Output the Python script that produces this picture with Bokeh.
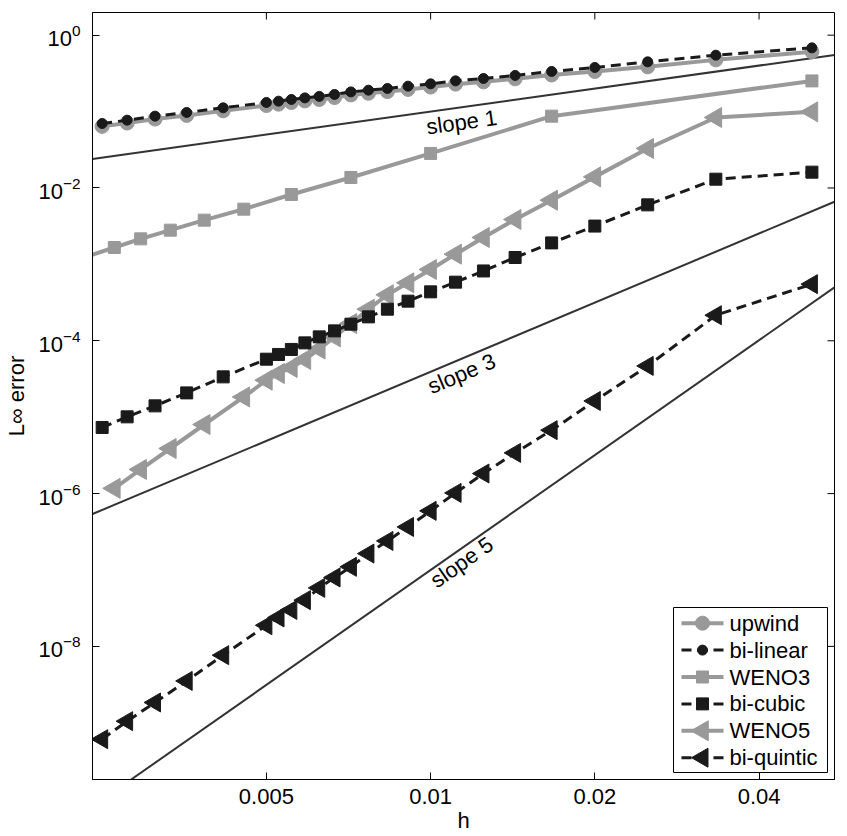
import numpy as np
from bokeh.plotting import figure
from bokeh.models import (Range1d, FixedTicker, CustomJSTickFormatter,
                          LogTickFormatter, ColumnDataSource)
from bokeh.core.properties import value
from bokeh.embed import file_html
from bokeh.resources import INLINE

# ---------------- data ----------------
N_fine = [400, 360, 320, 280, 240, 200, 190, 180, 170, 160, 150, 140,
          130, 120, 110, 100, 90, 80, 70, 60, 50, 40, 30, 20]
N_weno3 = [440, 380, 340, 300, 260, 220, 180, 140, 100, 60, 20]
N_weno5 = [380, 340, 300, 260, 220, 200, 190, 180, 170, 160, 150, 140,
           130, 120, 110, 100, 90, 80, 70, 60, 50, 40, 30, 20]

upwind = [0.0640, 0.0708, 0.0797, 0.0890, 0.1022, 0.1200, 0.1250, 0.1315,
          0.1380, 0.1440, 0.1525, 0.1650, 0.1735, 0.1825, 0.1950, 0.2090,
          0.2285, 0.2450, 0.2680, 0.3010, 0.3350, 0.3850, 0.4750, 0.6050]
bilinear = [0.0698, 0.0772, 0.0871, 0.0973, 0.1119, 0.1315, 0.1368, 0.1440,
            0.1510, 0.1580, 0.1674, 0.1810, 0.1906, 0.2006, 0.2150, 0.2305,
            0.2522, 0.2710, 0.2969, 0.3350, 0.3777, 0.4475, 0.5470, 0.6820]
weno3 = [0.00118, 0.001664, 0.002158, 0.002804, 0.003791, 0.005278,
         0.00822, 0.01372, 0.0283, 0.0871, 0.252]
bicubic = [7.33e-6, 1.01e-5, 1.406e-5, 2.08e-5, 3.37e-5, 5.74e-5, 6.62e-5,
           7.70e-5, 9.39e-5, 1.125e-4, 1.348e-4, 1.649e-4, 2.055e-4, 2.59e-4,
           3.30e-4, 4.37e-4, 5.85e-4, 8.2e-4, 1.23e-3, 1.91e-3, 3.17e-3,
           6.01e-3, 1.303e-2, 1.61e-2]
weno5 = [1.17e-6, 2.07e-6, 3.89e-6, 8.02e-6, 1.84e-5, 3.05e-5, 3.73e-5,
         4.47e-5, 5.7e-5, 7.8e-5, 1.125e-4, 1.68e-4, 2.59e-4, 4.0e-4, 5.73e-4,
         8.57e-4, 1.36e-3, 2.25e-3, 3.87e-3, 6.92e-3, 1.397e-2, 3.29e-2,
         8.37e-2, 9.91e-2]
biquintic = [6.10e-10, 1.05e-9, 1.845e-9, 3.53e-9, 7.67e-9, 1.89e-8, 2.39e-8,
             3.0e-8, 4.03e-8, 5.83e-8, 7.98e-8, 1.10e-7, 1.64e-7, 2.4e-7,
             3.66e-7, 5.94e-7, 1.02e-6, 1.83e-6, 3.41e-6, 6.76e-6, 1.63e-5,
             4.69e-5, 2.16e-4, 5.51e-4]

series_names = ["upwind", "bi-linear", "WENO3", "bi-cubic", "WENO5", "bi-quintic"]

# reference slope lines: end points (h, error)
slope_h = [0.0024, 0.055]
slope1_err = [0.024, 0.55]
slope3_err = [5.4e-7, 6.6e-3]
slope5_err = [8.0e-11, 5.0e-4]
slope_labels = ["slope 1", "slope 3", "slope 5"]

x_ticks = [0.005, 0.01, 0.02, 0.04]
y_ticks = [1e-8, 1e-6, 1e-4, 1e-2, 1.0]

# ---------------- figure ----------------
FONT = "Liberation Sans"
GRAY = "#999999"
BLACK = "#1a1a1a"
X0, X1 = 0.0024, 0.055
Y0, Y1 = 1.81e-10, 1.98
W, H = 847, 836
BL, BR, BT, BB = 92, 13, 12, 57

p = figure(width=W, height=H, x_axis_type="log", y_axis_type="log",
           x_range=Range1d(X0, X1), y_range=Range1d(Y0, Y1),
           output_backend="svg", toolbar_location=None,
           min_border_left=BL, min_border_right=BR, min_border_top=BT,
           min_border_bottom=BB)
p.grid.visible = False
p.outline_line_color = "black"
p.outline_line_width = 1
p.outline_line_alpha = 1

frame_w = W - BL - BR
frame_h = H - BT - BB
px_per_dec_x = frame_w / np.log10(X1 / X0)
px_per_dec_y = frame_h / np.log10(Y1 / Y0)


def sx_to_h(sx):
    return float(X0 * 10 ** ((sx - BL) / px_per_dec_x))


def sy_to_v(sy):
    return float(Y1 * 10 ** (-(sy - BT) / px_per_dec_y))


def style_axis(ax):
    ax.major_tick_in = 7
    ax.major_tick_out = 0
    ax.minor_tick_line_color = None
    ax.axis_line_color = "black"
    ax.major_tick_line_color = "black"
    ax.major_label_text_font = FONT
    ax.major_label_text_color = "black"
    ax.major_label_text_font_size = "22px"
    ax.axis_label_text_font = FONT
    ax.axis_label_text_font_style = "normal"
    ax.axis_label_text_font_size = "22px"
    ax.axis_label_text_color = "black"


xa = p.xaxis[0]
xa.ticker = FixedTicker(ticks=x_ticks)
xa.formatter = CustomJSTickFormatter(code="return tick.toString();")
style_axis(xa)
xa.major_label_standoff = 9
xa.axis_label = "h"
xa.axis_label_standoff = 1

ya = p.yaxis[0]
ya.ticker = FixedTicker(ticks=y_ticks)
ya.formatter = LogTickFormatter()
style_axis(ya)
ya.major_label_standoff = 12
ya.axis_label = "L\u221e error"
ya.axis_label_standoff = 6

# mirrored inward ticks on top and right edges (half of each dash is clipped by the frame)
p.scatter(x_ticks, [Y1] * len(x_ticks), marker="dash", size=14, angle=np.pi / 2,
          line_color="black", line_width=1)
p.scatter([X1] * len(y_ticks), y_ticks, marker="dash", size=14,
          line_color="black", line_width=1)

# slope lines
for ys in (slope1_err, slope3_err, slope5_err):
    p.line(slope_h, ys, line_color="#333333", line_width=2)

# slope labels: centred a little below each line and rotated along it
lab_x, lab_y, lab_a = [], [], []
for ys, drop in zip((slope1_err, slope3_err, slope5_err), (15, 15, 14)):
    k = np.log10(ys[1] / ys[0]) / np.log10(slope_h[1] / slope_h[0])
    hl = 0.0114
    yl = ys[0] * (hl / slope_h[0]) ** k
    lab_x.append(hl)
    lab_y.append(float(yl / 10 ** (drop / px_per_dec_y)))
    lab_a.append(float(np.arctan(k * px_per_dec_y / px_per_dec_x)))
p.text(x="x", y="y", text="text", angle="angle",
       source=ColumnDataSource(dict(x=lab_x, y=lab_y, text=slope_labels, angle=lab_a)),
       text_font=value(FONT), text_font_size="22px", text_align="center",
       text_baseline="middle", text_color="black")

h_fine = [1.0 / n for n in N_fine]
h_w3 = [1.0 / n for n in N_weno3]
h_w5 = [1.0 / n for n in N_weno5]

styles = [
    dict(hx=h_fine, vals=upwind, color=GRAY, dash="solid", lw=4, marker="circle", size=14, angle=0.0),
    dict(hx=h_fine, vals=bilinear, color=BLACK, dash="10 6", lw=3, marker="circle", size=10, angle=0.0),
    dict(hx=h_w3, vals=weno3, color=GRAY, dash="solid", lw=4, marker="square", size=12, angle=0.0),
    dict(hx=h_fine, vals=bicubic, color=BLACK, dash="10 6", lw=3, marker="square", size=12, angle=0.0),
    dict(hx=h_w5, vals=weno5, color=GRAY, dash="solid", lw=4, marker="triangle", size=20, angle=np.pi / 2),
    dict(hx=h_fine, vals=biquintic, color=BLACK, dash="10 6", lw=3, marker="triangle", size=19, angle=np.pi / 2),
]


def draw(s):
    p.line(s["hx"], s["vals"], line_color=s["color"], line_width=s["lw"], line_dash=s["dash"])
    p.scatter(s["hx"], s["vals"], marker=s["marker"], size=s["size"], angle=s["angle"],
              fill_color=s["color"], line_color=s["color"], line_width=1)


# grey series first, black series on top
for s in styles:
    if s["color"] == GRAY:
        draw(s)
for s in styles:
    if s["color"] == BLACK:
        draw(s)

# ---------------- legend (box, sample lines, markers and labels) ----------------
LEG_L, LEG_R, LEG_T, LEG_B = 673, 827, 607, 772
ROW0, ROW_STEP = 622.7, 26.9
G0, G1, TX = 681, 723, 729

p.quad(left=[sx_to_h(LEG_L)], right=[sx_to_h(LEG_R)], top=[sy_to_v(LEG_T)],
       bottom=[sy_to_v(LEG_B)], fill_color="white", line_color="black", line_width=1)
tx, ty = [], []
for i, s in enumerate(styles):
    yy = sy_to_v(ROW0 + ROW_STEP * i)
    p.line([sx_to_h(G0), sx_to_h(G1)], [yy, yy], line_color=s["color"],
           line_width=s["lw"], line_dash=s["dash"])
    p.scatter([sx_to_h((G0 + G1) / 2)], [yy], marker=s["marker"], size=s["size"],
              angle=s["angle"], fill_color=s["color"], line_color=s["color"], line_width=1)
    tx.append(sx_to_h(TX))
    ty.append(yy)
p.text(x="x", y="y", text="text",
       source=ColumnDataSource(dict(x=tx, y=ty, text=series_names)),
       text_font=value(FONT), text_font_size="22px", text_align="left",
       text_baseline="middle", text_color="black")

open("out.html", "w").write(file_html(p, INLINE))
